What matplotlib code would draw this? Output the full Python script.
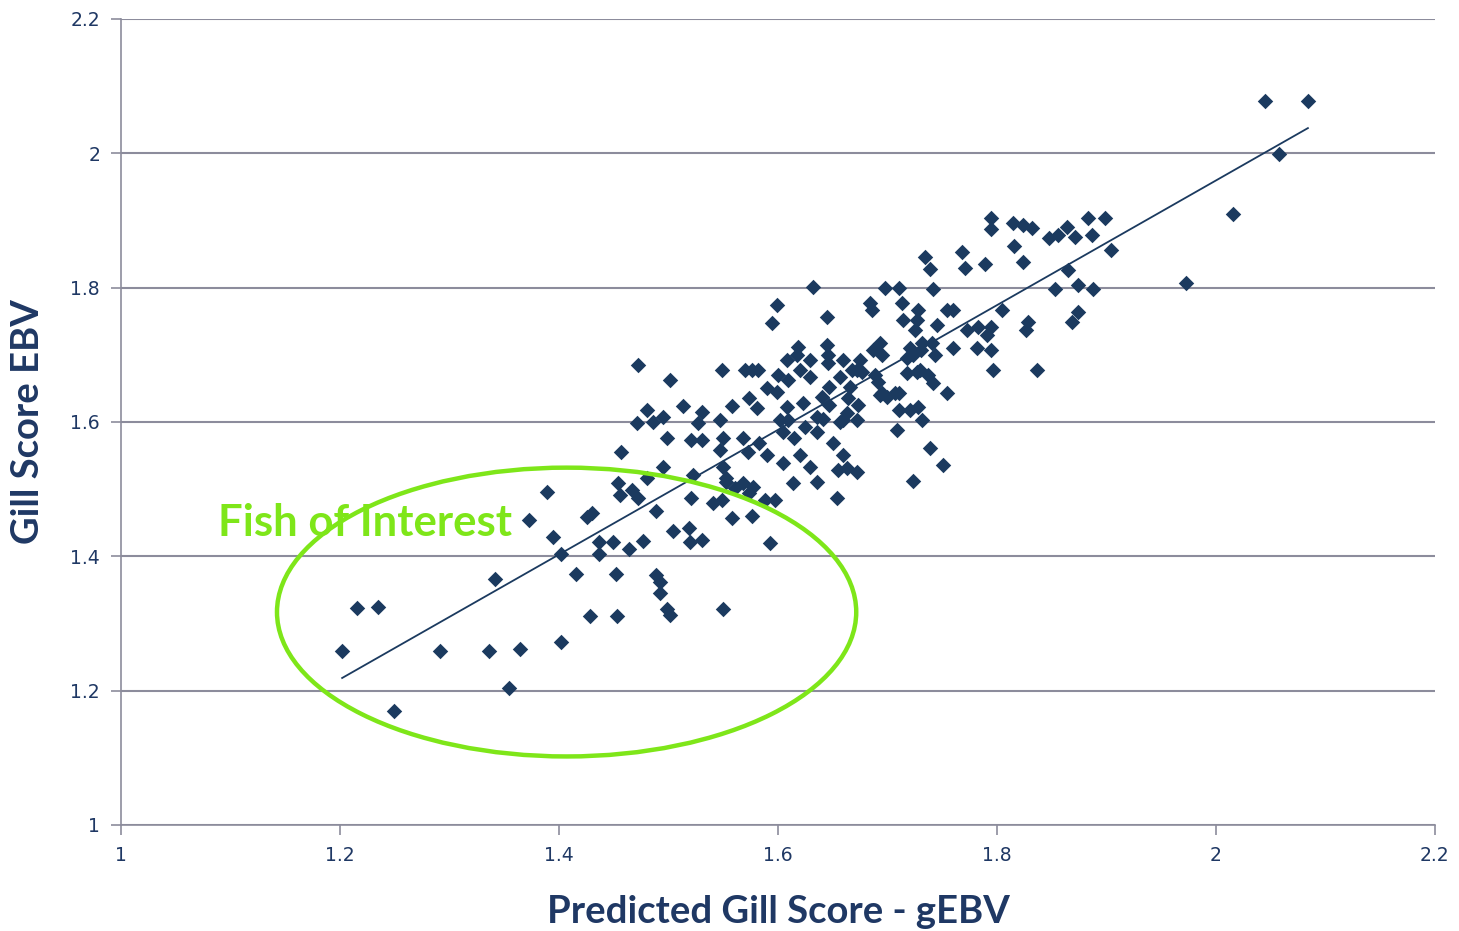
import numpy as np
import matplotlib.pyplot as plt
from matplotlib.patches import Ellipse

# predicted gill score (gEBV) vs gill score EBV
gebv = [
    1.202, 1.216, 1.235, 1.249, 1.291, 1.336, 1.342, 1.354, 1.364, 1.373,
    1.389, 1.395, 1.402, 1.402, 1.416, 1.426, 1.430, 1.428, 1.437,
    1.437, 1.449, 1.452, 1.453, 1.454, 1.456, 1.457, 1.464, 1.467, 1.472,
    1.477, 1.471, 1.472, 1.480, 1.486, 1.495, 1.480, 1.489, 1.489, 1.492,
    1.492, 1.495, 1.499, 1.501, 1.499, 1.501, 1.504, 1.513, 1.519, 1.520,
    1.521, 1.521, 1.522, 1.527, 1.531, 1.531, 1.531,
    1.541, 1.547, 1.547, 1.549, 1.549, 1.550, 1.550, 1.550, 1.553, 1.553,
    1.558, 1.558, 1.561, 1.568, 1.568, 1.570, 1.573, 1.574, 1.574, 1.576,
    1.576, 1.577, 1.581, 1.582, 1.583, 1.588, 1.590, 1.590, 1.593, 1.595,
    1.597, 1.599, 1.599, 1.600, 1.602, 1.605, 1.605, 1.608, 1.608, 1.609,
    1.609, 1.614, 1.615, 1.617, 1.618, 1.620, 1.620, 1.623, 1.625,
    1.629, 1.629, 1.629, 1.632, 1.636, 1.636, 1.636, 1.640, 1.641, 1.645,
    1.645, 1.646, 1.646, 1.647, 1.647, 1.650, 1.654, 1.655, 1.657, 1.657,
    1.659, 1.659, 1.659, 1.663, 1.663, 1.664, 1.666, 1.668, 1.672, 1.672,
    1.672, 1.673, 1.675, 1.677, 1.684, 1.686, 1.687, 1.689, 1.691, 1.693,
    1.693, 1.695, 1.695, 1.698, 1.700, 1.707, 1.709, 1.711, 1.711, 1.711,
    1.713, 1.714, 1.718, 1.718, 1.721, 1.721, 1.723, 1.723, 1.725, 1.727,
    1.727, 1.728, 1.728, 1.730, 1.731, 1.732, 1.732, 1.734, 1.737, 1.739,
    1.739, 1.741, 1.742, 1.742, 1.743, 1.745, 1.751, 1.754, 1.754, 1.760,
    1.760, 1.768, 1.771, 1.773, 1.782, 1.783, 1.789, 1.791, 1.795, 1.795,
    1.795, 1.795, 1.796, 1.805, 1.815, 1.816, 1.824, 1.824, 1.827, 1.828,
    1.832, 1.837, 1.848, 1.853, 1.856, 1.864, 1.865, 1.869, 1.871, 1.874,
    1.874, 1.883, 1.887, 1.888, 1.899, 1.904, 1.973, 2.016, 2.045, 2.058,
    2.084,
]
ebv = [
    1.259, 1.323, 1.325, 1.170, 1.259, 1.259, 1.366, 1.204, 1.262, 1.454,
    1.496, 1.429, 1.404, 1.272, 1.374, 1.459, 1.465, 1.311, 1.404,
    1.421, 1.421, 1.374, 1.311, 1.509, 1.491, 1.555, 1.411, 1.499, 1.487,
    1.423, 1.599, 1.685, 1.618, 1.600, 1.607, 1.517, 1.468, 1.372, 1.362,
    1.345, 1.533, 1.322, 1.313, 1.576, 1.663, 1.438, 1.624, 1.442, 1.421,
    1.487, 1.573, 1.521, 1.599, 1.615, 1.424, 1.573,
    1.479, 1.603, 1.558, 1.678, 1.484, 1.576, 1.533, 1.322, 1.511, 1.517,
    1.624, 1.457, 1.502, 1.576, 1.509, 1.678, 1.555, 1.636, 1.494, 1.678,
    1.460, 1.503, 1.621, 1.678, 1.569, 1.484, 1.651, 1.551, 1.420, 1.747,
    1.484, 1.774, 1.645, 1.670, 1.603, 1.585, 1.539, 1.692, 1.622, 1.663,
    1.603, 1.509, 1.576, 1.700, 1.712, 1.678, 1.551, 1.628, 1.593,
    1.692, 1.667, 1.533, 1.801, 1.607, 1.585, 1.511, 1.637, 1.605, 1.756,
    1.715, 1.700, 1.688, 1.652, 1.625, 1.569, 1.487, 1.529, 1.667, 1.600,
    1.692, 1.603, 1.551, 1.613, 1.532, 1.636, 1.652, 1.678, 1.678, 1.603,
    1.526, 1.625, 1.692, 1.675, 1.777, 1.767, 1.707, 1.670, 1.660, 1.718,
    1.640, 1.700, 1.643, 1.800, 1.637, 1.643, 1.588, 1.800, 1.643, 1.618,
    1.777, 1.752, 1.695, 1.673, 1.710, 1.618, 1.700, 1.512, 1.737, 1.752,
    1.675, 1.767, 1.622, 1.678, 1.707, 1.718, 1.603, 1.846, 1.670, 1.828,
    1.561, 1.718, 1.798, 1.658, 1.700, 1.745, 1.536, 1.767, 1.643, 1.767,
    1.710, 1.853, 1.829, 1.737, 1.710, 1.742, 1.835, 1.730, 1.904, 1.887,
    1.742, 1.707, 1.678, 1.767, 1.896, 1.862, 1.893, 1.838, 1.737, 1.749,
    1.889, 1.678, 1.874, 1.798, 1.879, 1.890, 1.826, 1.749, 1.876, 1.804,
    1.764, 1.904, 1.879, 1.798, 1.904, 1.856, 1.807, 1.910, 2.078, 1.999,
    2.078,
]

x_ticks = [1, 1.2, 1.4, 1.6, 1.8, 2, 2.2]
y_ticks = [1, 1.2, 1.4, 1.6, 1.8, 2, 2.2]
x_label = "Predicted Gill Score - gEBV"
y_label = "Gill Score EBV"
note = "Fish of Interest"
# highlighted region: centre, width, height (data units)
oval = dict(xy=(1.407, 1.317), width=0.529, height=0.430)

navy = "#1f3864"
dots = "#1b3a5f"
lime = "#7ee619"
grid_c = "#8c8c9c"

x = np.asarray(gebv)
y = np.asarray(ebv)
slope, icept = np.polyfit(x, y, 1)

fig = plt.figure(figsize=(14.59, 9.31), dpi=100)
ax = fig.add_axes([0.0829, 0.1139, 0.9006, 0.8657])

ax.scatter(x, y, marker="D", s=62, color=dots, linewidths=0, zorder=3)
xs = np.array([x.min(), x.max()])
ax.plot(xs, slope * xs + icept, color=dots, lw=1.3, zorder=4)

ax.add_patch(Ellipse(oval["xy"], oval["width"], oval["height"], fill=False,
                     edgecolor=lime, lw=3.2, zorder=5))
ax.text(1.089, 1.45, note, color=lime, fontsize=31.5, fontweight="bold",
        family=["Lato", "DejaVu Sans"], va="center", ha="left", zorder=6)

ax.set_xlim(1, 2.2)
ax.set_ylim(1, 2.2)
ax.set_xticks(x_ticks)
ax.set_yticks(y_ticks)
ax.set_xticklabels([f"{t:g}" for t in x_ticks])
ax.set_yticklabels([f"{t:g}" for t in y_ticks])
ax.tick_params(colors=grid_c, labelcolor=navy, labelsize=13.5, length=7, width=1.2, pad=8)
ax.yaxis.grid(True, color=grid_c, lw=1.5)
ax.set_axisbelow(True)
for s in ("top", "right"):
    ax.spines[s].set_visible(False)
for s in ("left", "bottom"):
    ax.spines[s].set_color(grid_c)
    ax.spines[s].set_linewidth(1.2)

lab = dict(color=navy, fontsize=27.5, fontweight="bold", family=["Lato", "DejaVu Sans"])
ax.set_xlabel(x_label, labelpad=22, **lab)
ax.set_ylabel(y_label, labelpad=18, **lab)

fig.savefig("out.png", dpi=100)
